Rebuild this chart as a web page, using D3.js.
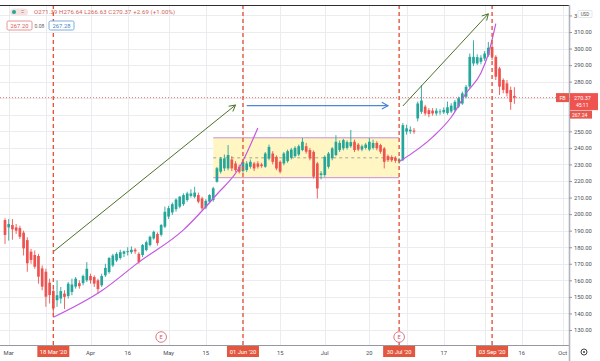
<!DOCTYPE html>
<html lang="en">
<head>
<meta charset="UTF-8">
<title>FB daily candles 2020</title>
<script src="https://d3js.org/d3.v7.min.js"></script>
<style>
  html, body { margin: 0; padding: 0; background: #fff; }
  svg { display: block; font-family: Roboto, "DejaVu Sans", sans-serif; }
</style>
</head>
<body>
<div id="chart"></div>
<script>
// trading days shown on the time axis (2020), candles use the first 138
const tradingDays = [
  "02-28",
  "03-02","03-03","03-04","03-05","03-06","03-09","03-10","03-11","03-12","03-13","03-16","03-17","03-18","03-19","03-20","03-23","03-24","03-25","03-26","03-27","03-30","03-31",
  "04-01","04-02","04-03","04-06","04-07","04-08","04-09","04-13","04-14","04-15","04-16","04-17","04-20","04-21","04-22","04-23","04-24","04-27","04-28","04-29","04-30",
  "05-01","05-04","05-05","05-06","05-07","05-08","05-11","05-12","05-13","05-14","05-15","05-18","05-19","05-20","05-21","05-22","05-26","05-27","05-28","05-29",
  "06-01","06-02","06-03","06-04","06-05","06-08","06-09","06-10","06-11","06-12","06-15","06-16","06-17","06-18","06-19","06-22","06-23","06-24","06-25","06-26","06-29","06-30",
  "07-01","07-02","07-06","07-07","07-08","07-09","07-10","07-13","07-14","07-15","07-16","07-17","07-20","07-21","07-22","07-23","07-24","07-27","07-28","07-29","07-30","07-31",
  "08-03","08-04","08-05","08-06","08-07","08-10","08-11","08-12","08-13","08-14","08-17","08-18","08-19","08-20","08-21","08-24","08-25","08-26","08-27","08-28","08-31",
  "09-01","09-02","09-03","09-04","09-08","09-09","09-10","09-11","09-14","09-15","09-16","09-17","09-18","09-21","09-22","09-23","09-24","09-25","09-28","09-29","09-30",
  "10-01","10-02"
];

const opens = [
  196.4,192.0,193.4,192.0,191.6,188.8,184.3,177.3,175.3,174.7,167.2,165.2,158.6,153.6,148.0,149.0,152.0,150.5,153.0,156.2,158.3,158.3,160.0,
  162.6,162.0,160.0,157.0,163.0,165.0,169.0,172.0,173.5,176.0,177.0,177.0,178.5,176.0,175.3,178.3,181.3,185.3,188.0,187.5,192.4,
  198.5,201.0,203.0,204.5,206.0,208.5,211.0,210.5,211.5,209.5,204.0,207.5,208.5,219.6,225.6,227.6,227.6,233.0,230.6,228.6,
  226.0,226.6,228.6,230.6,230.6,230.0,228.6,233.6,236.6,234.6,231.6,230.6,232.0,234.0,235.0,236.0,238.7,241.0,238.7,237.6,230.6,223.6,
  223.6,228.6,233.7,235.7,238.7,239.7,240.0,241.0,243.7,242.0,239.0,240.0,239.0,240.0,243.0,241.7,239.7,235.0,234.5,234.0,232.0,232.6,
  249.8,250.0,250.5,257.8,261.8,264.9,262.8,262.5,260.8,261.5,261.5,261.0,262.0,262.8,265.0,266.8,270.9,277.0,291.0,291.0,292.0,
  294.0,296.0,301.0,295.0,288.0,281.0,279.0,275.0,271.39
];
const highs = [
  197.5,197.0,197.0,194.0,193.0,190.0,186.0,179.0,178.0,176.0,169.0,167.0,161.0,155.0,160.0,156.0,154.0,159.0,161.0,162.0,160.0,163.5,171.0,
  164.0,163.0,161.0,164.0,170.0,174.0,176.0,177.0,178.5,178.0,180.0,180.5,179.5,177.0,182.0,184.0,187.0,190.0,189.0,194.0,204.5,
  205.0,207.0,209.5,211.0,212.5,213.5,215.0,216.5,213.0,210.5,209.0,212.0,216.5,228.5,234.5,236.0,241.7,235.0,232.0,230.0,
  232.5,232.0,233.0,231.5,232.0,231.0,237.5,242.0,238.0,235.5,232.5,237.5,239.0,240.0,241.0,242.0,246.0,243.0,240.0,238.5,231.5,226.0,
  235.5,237.5,240.5,247.7,244.5,245.5,244.5,250.8,245.0,243.0,242.0,243.0,246.0,245.0,244.0,242.5,240.5,236.0,235.5,235.0,234.0,255.0,
  254.0,253.0,252.0,268.0,278.0,266.0,264.0,264.0,264.0,263.5,264.5,268.0,267.0,269.0,271.0,274.0,278.0,297.0,305.0,296.5,296.0,
  298.5,304.0,303.0,296.0,289.0,282.0,281.0,277.0,276.64
];
const lows = [
  182.0,184.0,184.5,188.0,185.0,175.0,165.2,170.0,167.0,158.0,154.0,144.0,146.0,139.0,144.0,146.0,142.7,149.0,151.0,155.0,155.0,157.0,159.0,
  158.0,156.0,152.0,156.0,162.0,164.0,168.0,171.0,172.5,174.0,175.0,176.0,176.0,170.0,174.0,177.5,180.5,184.5,181.0,186.5,191.5,
  197.0,199.5,201.5,203.5,205.0,207.5,210.0,209.5,206.5,202.5,203.0,206.5,207.5,219.0,224.5,226.0,226.5,226.0,225.5,224.5,
  225.0,225.5,227.5,226.0,227.5,228.0,228.0,232.5,230.0,226.5,224.5,229.5,231.0,233.0,234.0,235.0,238.0,236.5,232.5,221.5,209.4,221.0,
  222.5,227.5,232.5,235.0,237.5,238.5,239.0,240.0,237.5,238.0,238.0,239.0,238.0,239.0,238.5,236.5,227.6,231.5,231.5,231.0,230.5,232.0,
  248.0,248.5,248.5,256.0,260.5,259.5,258.5,259.5,259.5,260.0,260.5,260.0,261.0,262.0,264.0,266.0,270.0,276.0,289.5,290.0,290.5,
  292.5,295.0,293.0,281.0,272.0,273.0,271.0,263.0,266.63
];
const closes = [
  187.4,194.0,190.8,190.0,186.3,179.3,170.3,172.3,168.2,162.2,156.2,150.1,151.1,143.1,151.0,153.5,150.0,158.0,157.5,161.0,156.5,162.6,167.0,
  160.0,158.0,154.7,162.6,167.5,173.5,175.0,176.0,177.0,177.5,177.6,178.5,177.5,171.0,181.3,183.0,186.3,189.3,182.5,193.4,201.4,
  203.6,206.0,208.8,210.5,211.5,212.5,212.5,213.0,207.5,203.5,208.0,211.5,215.6,227.7,233.6,233.6,235.7,227.6,226.6,225.6,
  231.5,230.6,231.6,227.6,228.6,229.0,236.6,240.6,231.6,227.6,225.6,236.6,238.0,239.0,240.0,241.0,243.7,237.7,233.7,222.6,215.5,224.6,
  234.6,236.6,239.7,243.7,243.0,244.7,243.5,243.5,238.7,239.0,241.0,242.0,243.7,243.0,239.7,237.7,231.6,232.6,232.5,232.2,233.0,253.7,
  251.8,251.0,249.8,266.8,268.6,260.8,260.4,260.8,262.5,262.0,263.0,264.5,265.5,267.8,270.0,272.9,276.9,295.0,295.0,294.8,294.5,
  297.0,300.5,295.0,283.0,277.0,275.0,273.0,267.7,270.37
];

const priceTicks = [130, 140, 150, 160, 170, 180, 190, 200, 210, 220, 230, 240, 250, 260, 270, 280, 290, 300, 310, 320];
const timeTickDays = ["03-02","03-16","04-01","04-16","05-01","05-15","06-01","06-15","07-01","07-20","08-03","08-17","09-01","09-16","10-01"];
const timeTickLabels = ["Mar","16","Apr","16","May","15","Jun","15","Jul","20","Aug","17","Sep","16","Oct"];

const markerDays = ["03-18","06-01","07-30","09-03"];
const markerLabels = ["18 Mar '20","01 Jun '20","30 Jul '20","03 Sep '20"];
const earningsDays = ["04-29","07-30"];

// drawings: [day, price]
const trendArrow1 = [["03-18", 177.3], ["05-28", 265.9]];
const trendArrow2 = [["07-31", 265.3], ["09-02", 321.0]];
const rangeArrow = [["06-02", 265.5], ["07-27", 265.5]];
const rangeBox = { from: "05-19", to: "07-30", top: 246.1, bottom: 222.0, mid: 234.0 };
const curve1 = [["03-18",137.7],["04-06",153.7],["04-21",171.0],["05-07",190.5],["05-20",212.0],["05-29",228.0],["06-05",252.0]];
const curve2 = [["07-30",231.6],["08-12",246.5],["08-19",258.5],["08-25",273.0],["08-31",285.3],["09-02",296.7],["09-04",315.0]];

const lastPrice = 270.37;

const W = 600, H = 361, axisX = 569, axisY = 345;
const svg = d3.select('#chart').append('svg').attr('width', W).attr('height', H);

const dayIdx = d => tradingDays.indexOf(d);
const x = d3.scaleLinear().domain([0, 137]).range([5.0, 514.4]);
const y = d3.scaleLinear().domain([130, 310]).range([330, 32]);
const xd = d => x(dayIdx(d));

const red = '#ef5350', green = '#26a69a', tagRed = '#e4573f';

// grid
const grid = svg.append('g');
grid.selectAll('line.h').data(priceTicks).enter().append('line')
  .attr('x1', 0).attr('x2', axisX).attr('y1', d => Math.round(y(d)) + 0.5).attr('y2', d => Math.round(y(d)) + 0.5)
  .attr('stroke', '#eaecf0').attr('stroke-width', 1);
grid.selectAll('line.v').data(timeTickDays).enter().append('line')
  .attr('x1', d => Math.round(xd(d)) + 0.5).attr('x2', d => Math.round(xd(d)) + 0.5).attr('y1', 5).attr('y2', axisY)
  .attr('stroke', '#eaecf0').attr('stroke-width', 1);

// range box
const box = svg.append('g');
box.append('rect')
  .attr('x', xd(rangeBox.from)).attr('y', y(rangeBox.top))
  .attr('width', xd(rangeBox.to) - xd(rangeBox.from)).attr('height', y(rangeBox.bottom) - y(rangeBox.top))
  .attr('fill', '#fff6c4');
[rangeBox.top, rangeBox.bottom].forEach(p => {
  box.append('line').attr('x1', xd(rangeBox.from)).attr('x2', xd(rangeBox.to))
    .attr('y1', y(p)).attr('y2', y(p)).attr('stroke', '#c98fd6').attr('stroke-width', 1);
});
box.append('line').attr('x1', xd(rangeBox.from)).attr('x2', xd(rangeBox.to))
  .attr('y1', y(rangeBox.mid)).attr('y2', y(rangeBox.mid))
  .attr('stroke', '#a3a88a').attr('stroke-width', 1).attr('stroke-dasharray', '3,3');

// current price line
svg.append('line').attr('x1', 0).attr('x2', axisX).attr('y1', y(lastPrice)).attr('y2', y(lastPrice))
  .attr('stroke', red).attr('stroke-width', 1).attr('stroke-dasharray', '1,2').attr('opacity', 0.8);

// candles
const candles = svg.append('g');
const idx = d3.range(closes.length);
candles.selectAll('line').data(idx).enter().append('line')
  .attr('x1', i => x(i)).attr('x2', i => x(i))
  .attr('y1', i => y(highs[i])).attr('y2', i => y(lows[i]))
  .attr('stroke', i => closes[i] >= opens[i] ? green : red).attr('stroke-width', 0.9);
candles.selectAll('rect').data(idx).enter().append('rect')
  .attr('x', i => x(i) - 1.35).attr('width', 2.7)
  .attr('y', i => y(Math.max(opens[i], closes[i])))
  .attr('height', i => Math.max(0.8, Math.abs(y(opens[i]) - y(closes[i]))))
  .attr('fill', i => closes[i] >= opens[i] ? green : red);

// curves
const line = d3.line().x(d => xd(d[0])).y(d => y(d[1])).curve(d3.curveMonotoneX);
[curve1, curve2].forEach(c => {
  svg.append('path').attr('d', line(c)).attr('fill', 'none').attr('stroke', '#c458e0').attr('stroke-width', 1.2);
});

// arrows
function arrow(pts, color, width) {
  const x1 = xd(pts[0][0]), y1 = y(pts[0][1]), x2 = xd(pts[1][0]), y2 = y(pts[1][1]);
  const a = Math.atan2(y2 - y1, x2 - x1), L = 7, s = 0.5;
  const g = svg.append('g').attr('stroke', color).attr('stroke-width', width).attr('fill', 'none');
  g.append('line').attr('x1', x1).attr('y1', y1).attr('x2', x2).attr('y2', y2);
  g.append('path').attr('d',
    `M${x2 - L * Math.cos(a - s)},${y2 - L * Math.sin(a - s)}L${x2},${y2}L${x2 - L * Math.cos(a + s)},${y2 - L * Math.sin(a + s)}`);
}
arrow(trendArrow1, '#4d7028', 1);
arrow(trendArrow2, '#4d7028', 1);
arrow(rangeArrow, '#4f86d6', 1.2);

// vertical date markers
svg.selectAll('line.mk').data(markerDays).enter().append('line')
  .attr('x1', d => xd(d)).attr('x2', d => xd(d)).attr('y1', 5).attr('y2', axisY)
  .attr('stroke', tagRed).attr('stroke-width', 1.4).attr('stroke-dasharray', '4,3');

// earnings markers
const ev = svg.selectAll('g.ev').data(earningsDays).enter().append('g')
  .attr('transform', d => `translate(${xd(d)},337)`);
ev.append('circle').attr('r', 5.3).attr('fill', '#fff').attr('stroke', '#d86a78').attr('stroke-width', 0.9);
ev.append('text').attr('text-anchor', 'middle').attr('y', 2).attr('font-size', 5.5).attr('fill', '#c9546a').text('E');

// top border and axes
svg.append('line').attr('x1', 0).attr('x2', axisX).attr('y1', 5.5).attr('y2', 5.5).attr('stroke', '#2e2e2e').attr('stroke-width', 1.2);
svg.append('line').attr('x1', 0).attr('x2', axisX).attr('y1', axisY + 0.5).attr('y2', axisY + 0.5).attr('stroke', '#9598a1').attr('stroke-width', 1);
svg.append('line').attr('x1', axisX + 0.5).attr('x2', axisX + 0.5).attr('y1', 5).attr('y2', H).attr('stroke', '#b2b5be').attr('stroke-width', 1.6);

// price axis: labels under the last-price tags are hidden, the top one only shows its "3"
const hiddenPrice = p => Math.abs(y(p) - y(lastPrice)) < 20 && p < lastPrice + 5;
const yAxis = d3.axisRight(y).tickValues(priceTicks).tickSize(3).tickPadding(2)
  .tickFormat(p => hiddenPrice(p) ? '' : (p === 320 ? '3' : d3.format('.2f')(p)));
const ya = svg.append('g').attr('transform', `translate(${axisX},0)`).call(yAxis);
ya.select('.domain').remove();
ya.selectAll('line').attr('stroke', '#9598a1');
ya.selectAll('text').attr('font-size', 5.8).attr('fill', '#4a4d55').attr('font-family', 'Roboto, sans-serif');

// USD badge next to the top label
svg.append('rect').attr('x', 578).attr('y', 10.5).attr('width', 14).attr('height', 7).attr('fill', '#fff').attr('stroke', '#d0d3da').attr('stroke-width', 0.6).attr('rx', 1);
svg.append('text').attr('x', 585).attr('y', 15.8).attr('text-anchor', 'middle').attr('font-size', 4.6).attr('fill', '#555').text('USD');

// time axis labels (the ones under a date tag are covered on the screen)
const coveredDay = d => markerDays.some(m => Math.abs(xd(m) - xd(d)) < 18);
const xa = svg.append('g');
xa.selectAll('text').data(timeTickDays.filter(d => !coveredDay(d))).enter().append('text')
  .attr('x', d => xd(d)).attr('y', 355).attr('text-anchor', 'middle')
  .attr('font-size', 5.8).attr('fill', '#4a4d55').text(d => timeTickLabels[timeTickDays.indexOf(d)]);

// date tags
const tags = svg.selectAll('g.tag').data(markerDays).enter().append('g')
  .attr('transform', d => `translate(${xd(d)},346)`);
tags.append('rect').attr('x', -16).attr('y', 0).attr('width', 32).attr('height', 11).attr('fill', tagRed);
tags.append('text').attr('text-anchor', 'middle').attr('y', 7.6).attr('font-size', 5.8).attr('fill', '#fff')
  .text((d, i) => markerLabels[i]);

// right side price tags
const py = y(lastPrice);
svg.append('rect').attr('x', 556).attr('y', py - 4.5).attr('width', 13).attr('height', 9).attr('fill', '#e8574e');
svg.append('text').attr('x', 562.5).attr('y', py + 2).attr('text-anchor', 'middle').attr('font-size', 5.3).attr('fill', '#fff').text('FB');
svg.append('rect').attr('x', 570).attr('y', py - 4.5).attr('width', 28).attr('height', 17).attr('fill', red);
svg.append('text').attr('x', 574).attr('y', py + 2).attr('font-size', 5.5).attr('fill', '#fff').text('270.37');
svg.append('text').attr('x', 576).attr('y', py + 9.8).attr('font-size', 5).attr('fill', '#fff').text('45:11');
svg.append('rect').attr('x', 570).attr('y', py + 13).attr('width', 22).attr('height', 8).attr('fill', '#e8574e');
svg.append('text').attr('x', 572).attr('y', py + 19).attr('font-size', 5).attr('fill', '#fff').text('267.24');

// settings gear
const gear = svg.append('g').attr('transform', 'translate(584,352)');
gear.append('circle').attr('r', 3).attr('fill', 'none').attr('stroke', '#444').attr('stroke-width', 1);
gear.append('circle').attr('r', 1).attr('fill', '#444');

// legend / header
const hd = svg.append('g');
hd.append('rect').attr('x', 10).attr('y', 8.5).attr('width', 18).attr('height', 7).attr('rx', 3.5).attr('fill', '#f4e3e3');
hd.append('circle').attr('cx', 14).attr('cy', 12).attr('r', 2).attr('fill', green);
hd.append('text').attr('x', 22.5).attr('y', 14.3).attr('text-anchor', 'middle').attr('font-size', 6.5).attr('fill', '#d85a6a').text('=');
hd.append('text').attr('x', 34).attr('y', 14.2).attr('font-size', 6).attr('fill', '#d46058')
  .attr('textLength', 141).attr('lengthAdjust', 'spacing')
  .text('O271.39 H276.64 L266.63 C270.37 +2.69 (+1.00%)');
hd.append('rect').attr('x', 7).attr('y', 21).attr('width', 25).attr('height', 9).attr('rx', 1.5).attr('fill', '#fff').attr('stroke', '#e27a7a').attr('stroke-width', 0.8);
hd.append('text').attr('x', 19.5).attr('y', 27.6).attr('text-anchor', 'middle').attr('font-size', 5.8).attr('fill', '#d55').text('267.20');
hd.append('text').attr('x', 34.5).attr('y', 27.6).attr('font-size', 5).attr('fill', '#666').text('0.08');
hd.append('rect').attr('x', 49).attr('y', 21).attr('width', 25).attr('height', 9).attr('rx', 1.5).attr('fill', '#fff').attr('stroke', '#5a9ad6').attr('stroke-width', 0.8);
hd.append('text').attr('x', 61.5).attr('y', 27.6).attr('text-anchor', 'middle').attr('font-size', 5.8).attr('fill', '#3f7fc4').text('267.28');
</script>
</body>
</html>
